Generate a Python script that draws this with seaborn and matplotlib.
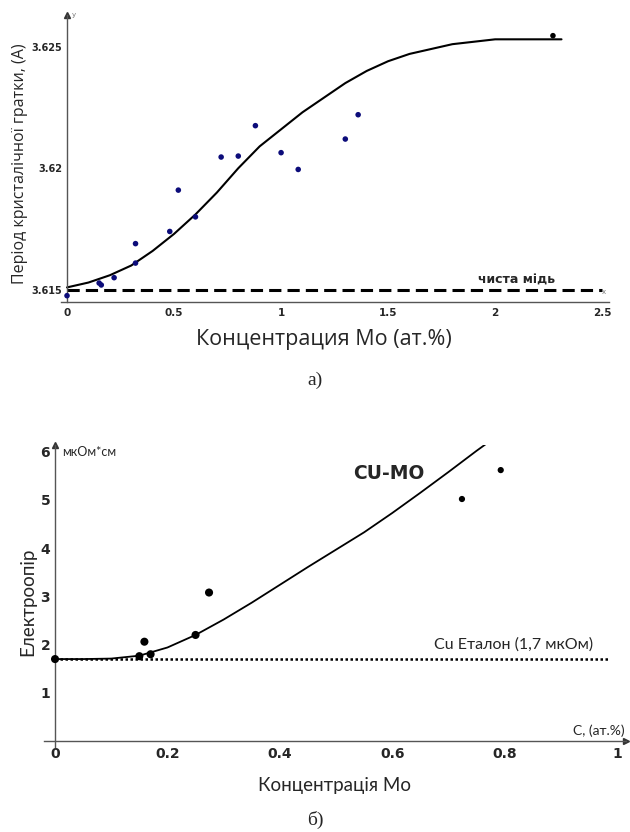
import matplotlib
matplotlib.use("Agg")
import matplotlib.pyplot as plt
import seaborn as sns
import pandas as pd
from matplotlib.ticker import MultipleLocator

# a) lattice period vs Mo concentration
lat_x = [0.00, 0.15, 0.16, 0.22, 0.32, 0.32, 0.48, 0.52, 0.60, 0.72, 0.80, 0.88, 1.00, 1.08, 1.30, 1.36]
lat_y = [3.61476, 3.61528, 3.61520, 3.61550, 3.61690, 3.61610, 3.61740, 3.61910, 3.61800,
         3.62046, 3.62050, 3.62175, 3.62064, 3.61995, 3.62120, 3.62220]
lat_last_x = [2.27]
lat_last_y = [3.62545]
lat_fit_x = [0.0, 0.1, 0.2, 0.3, 0.4, 0.5, 0.6, 0.7, 0.8, 0.9, 1.0, 1.1, 1.2,
             1.3, 1.4, 1.5, 1.6, 1.7, 1.8, 1.9, 2.0, 2.1, 2.2, 2.31]
lat_fit_y = [3.6151, 3.6153, 3.6156, 3.6160, 3.6166, 3.6173, 3.6181, 3.6190, 3.6200,
             3.6209, 3.6216, 3.6223, 3.6229, 3.6235, 3.6240, 3.6244, 3.6247, 3.6249,
             3.6251, 3.6252, 3.6253, 3.6253, 3.6253, 3.6253]
pure_cu = 3.615

# b) resistivity vs Mo concentration
res_x = [0.0, 0.15, 0.159, 0.17, 0.25, 0.274]
res_y = [1.70, 1.76, 2.06, 1.80, 2.20, 3.08]
res_small_x = [0.724, 0.793]
res_small_y = [5.02, 5.62]
res_fit_x = [0.0, 0.05, 0.1, 0.15, 0.2, 0.25, 0.3, 0.35, 0.4, 0.45, 0.5, 0.55,
             0.6, 0.65, 0.7, 0.75, 0.782]
res_fit_y = [1.70, 1.70, 1.71, 1.77, 1.94, 2.20, 2.52, 2.87, 3.24, 3.61, 3.97, 4.33,
             4.73, 5.15, 5.58, 6.02, 6.29]
cu_ref = 1.7

sns.set_style("white")
plt.rcParams['font.family'] = ['DejaVu Sans']

tick_font = dict(family='DejaVu Sans', weight='bold')

fig = plt.figure(figsize=(6.3, 8.32), dpi=100)


def style_axes(ax, ytick_size, xtick_size):
    for s in ['top', 'right']:
        ax.spines[s].set_visible(False)
    for s in ['left', 'bottom']:
        ax.spines[s].set_color('#555555')
        ax.spines[s].set_linewidth(1.0)
    ax.spines['left'].set_position(('data', 0))
    ax.tick_params(which='both', direction='inout', color='#555555', width=0.8)
    ax.tick_params(which='major', length=5)
    ax.tick_params(which='minor', length=3)
    ax.tick_params(axis='y', pad=1)
    ax.tick_params(axis='x', pad=2)
    for lab in ax.get_yticklabels():
        lab.set(**tick_font, fontsize=ytick_size)
    for lab in ax.get_xticklabels():
        lab.set(**tick_font, fontsize=xtick_size)
    # arrow heads on the axes
    ax.plot(1, 0, '>', color='#333333', ms=4, transform=ax.get_yaxis_transform(), clip_on=False)
    ax.plot(0, 1, '^', color='#333333', ms=4, transform=ax.get_xaxis_transform(), clip_on=False)


# ---------- a) ----------
ax1 = fig.add_axes([60.6 / 630, (832 - 302) / 832, 548 / 630, 287 / 832])
df_lat = pd.DataFrame({'x': lat_x, 'y': lat_y})
df_lat_fit = pd.DataFrame({'x': lat_fit_x, 'y': lat_fit_y})
ax1.axhline(pure_cu, xmin=0.03 / 2.56, xmax=2.5 / 2.56 + 0.03 / 2.56, color='black',
            lw=2.2, ls=(0, (4, 2)))
sns.lineplot(data=df_lat_fit, x='x', y='y', ax=ax1, color='black', lw=1.5, sort=True)
sns.scatterplot(data=df_lat, x='x', y='y', ax=ax1, color='#0c0c7a', s=16, edgecolor='none', zorder=5)
sns.scatterplot(x=lat_last_x, y=lat_last_y, ax=ax1, color='black', s=16, edgecolor='none', zorder=5)
ax1.set_xlim(-0.03, 2.53)
ax1.set_ylim(3.6145, 3.6263)
ax1.xaxis.set_minor_locator(MultipleLocator(0.1))
ax1.yaxis.set_minor_locator(MultipleLocator(0.001))
ax1.set_xticks([0, 0.5, 1, 1.5, 2, 2.5], ['0', '0.5', '1', '1.5', '2', '2.5'])
ax1.set_yticks([3.615, 3.62, 3.625], ['3.615', '3.62', '3.625'])
ax1.set_xlabel('')
ax1.set_ylabel('')
style_axes(ax1, 7, 7.5)
ax1.text(2.28, 3.61515, 'чиста мідь', ha='right', va='bottom', fontsize=9, **tick_font)
ax1.text(0.02, 3.6263, 'y', fontsize=5, color='#777777', ha='left', va='center')
ax1.text(2.51, 3.6149, 'x', fontsize=5, color='#777777', ha='center', va='center')

fig.text(20 / 630, 1 - 164 / 832, 'Період кристалічної гратки, (A)', rotation=90,
         ha='center', va='center', fontsize=11.5, family='Open Sans')
fig.text(324 / 630, 1 - 340 / 832, 'Концентрация Мо (ат.%)', ha='center', va='center',
         fontsize=15.5, family='Open Sans')
fig.text(0.5, 1 - 380 / 832, 'а)', ha='center', va='center', fontsize=14,
         family='Liberation Serif')

# ---------- b) ----------
ax2 = fig.add_axes([43.8 / 630, (832 - 746.8) / 832, 581.7 / 630, 301.3 / 832])
df_res = pd.DataFrame({'x': res_x, 'y': res_y})
df_res_fit = pd.DataFrame({'x': res_fit_x, 'y': res_fit_y})
ax2.axhline(cu_ref, xmin=0.02 / 1.035, xmax=1.005 / 1.035, color='black', lw=1.8, ls=(0, (1, 1)))
sns.lineplot(data=df_res_fit, x='x', y='y', ax=ax2, color='black', lw=1.3, sort=True)
sns.scatterplot(data=df_res, x='x', y='y', ax=ax2, color='black', s=34, edgecolor='none', zorder=5)
sns.scatterplot(x=res_small_x, y=res_small_y, ax=ax2, color='black', s=20, edgecolor='none', zorder=5)
ax2.set_xlim(-0.02, 1.015)
ax2.set_ylim(-0.12, 6.13)
ax2.spines['bottom'].set_position(('data', 0))
ax2.set_xticks([0, 0.2, 0.4, 0.6, 0.8, 1], ['0', '0.2', '0.4', '0.6', '0.8', '1'])
ax2.set_yticks([1, 2, 3, 4, 5, 6], ['1', '2', '3', '4', '5', '6'])
ax2.set_xlabel('')
ax2.set_ylabel('')
style_axes(ax2, 10, 10)
ax2.text(0.012, 6.0, 'мкОм*см', ha='left', va='center', fontsize=9, family='Lato')
ax2.text(1.013, 0.21, 'С, (ат.%)', ha='right', va='center', fontsize=10, family='Lato')
ax2.text(0.593, 5.54, 'CU-MO', ha='center', va='center', fontsize=13.5, **tick_font)
ax2.text(0.816, 2.01, 'Cu Еталон (1,7 мкОм)', ha='center', va='center', fontsize=11.5,
         family='Lato')

fig.text(28 / 630, 1 - 602 / 832, 'Електроопір', rotation=90, ha='center', va='center',
         fontsize=13.5, family='Lato')
fig.text(334 / 630, 1 - 786 / 832, 'Концентрація Мо', ha='center', va='center',
         fontsize=13.5, family='Lato')
fig.text(0.5, 1 - 820 / 832, 'б)', ha='center', va='center', fontsize=14,
         family='Liberation Serif')

fig.savefig('out.png', dpi=100)
